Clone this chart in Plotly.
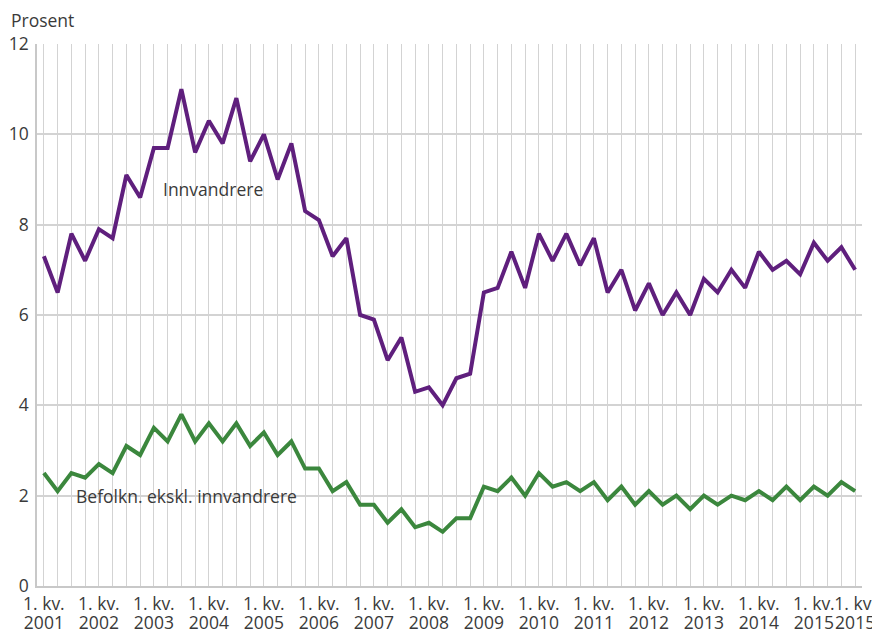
import plotly.graph_objects as go

years = list(range(2001, 2016))
quarters = [f"{y}K{q}" for y in years for q in range(1, 5)]

innvandrere = [7.3, 6.5, 7.8, 7.2, 7.9, 7.7, 9.1, 8.6, 9.7, 9.7,
               11.0, 9.6, 10.3, 9.8, 10.8, 9.4, 10.0, 9.0, 9.8, 8.3,
               8.1, 7.3, 7.7, 6.0, 5.9, 5.0, 5.5, 4.3, 4.4, 4.0,
               4.6, 4.7, 6.5, 6.6, 7.4, 6.6, 7.8, 7.2, 7.8, 7.1,
               7.7, 6.5, 7.0, 6.1, 6.7, 6.0, 6.5, 6.0, 6.8, 6.5,
               7.0, 6.6, 7.4, 7.0, 7.2, 6.9, 7.6, 7.2, 7.5, 7.0]

befolkn = [2.5, 2.1, 2.5, 2.4, 2.7, 2.5, 3.1, 2.9, 3.5, 3.2,
           3.8, 3.2, 3.6, 3.2, 3.6, 3.1, 3.4, 2.9, 3.2, 2.6,
           2.6, 2.1, 2.3, 1.8, 1.8, 1.4, 1.7, 1.3, 1.4, 1.2,
           1.5, 1.5, 2.2, 2.1, 2.4, 2.0, 2.5, 2.2, 2.3, 2.1,
           2.3, 1.9, 2.2, 1.8, 2.1, 1.8, 2.0, 1.7, 2.0, 1.8,
           2.0, 1.9, 2.1, 1.9, 2.2, 1.9, 2.2, 2.0, 2.3, 2.1]

# labelled categories and their texts (as in the original, last label repeats 2015)
tick_categories = [f"{y}K1" for y in years] + ["2015K4"]
tick_quarter_text = ["1. kv."] * len(tick_categories)
tick_year_text = [str(y) for y in years] + ["2015"]

series_names = ["Innvandrere", "Befolkn. ekskl. innvandrere"]
colors = ["#5f1f7d", "#3b873d"]

x_idx = list(range(len(quarters)))
tickvals = [quarters.index(c) for c in tick_categories]
xrange = [-0.5, len(quarters) - 0.5]

FONT = "Open Sans"
FS = 17.5
TXT = "#3a3a3a"
GRID = "#d3d3d3"
tfont = dict(family=FONT, size=FS, color=TXT)

fig = go.Figure()
for name, vals, col in zip(series_names, [innvandrere, befolkn], colors):
    fig.add_trace(go.Scatter(
        x=x_idx, y=vals, mode="lines", name=name,
        line=dict(color=col, width=4), customdata=quarters,
        hovertemplate="%{customdata}: %{y}<extra>" + name + "</extra>",
    ))
# invisible carrier so the second (year-label) x axis is drawn
fig.add_trace(go.Scatter(
    x=x_idx, y=befolkn, xaxis="x2", mode="lines",
    line=dict(width=0, color="rgba(0,0,0,0)"), hoverinfo="skip", showlegend=False,
))

# page body has an 8px margin, so the figure is sized to fill the window from there
fig.update_layout(
    width=872, height=624,
    margin=dict(l=29, r=18, t=36, b=46),
    paper_bgcolor="white", plot_bgcolor="white",
    showlegend=False,
    font=tfont,
    annotations=[
        dict(text="Prosent", xref="paper", yref="paper", x=-0.034, y=1.044,
             xanchor="left", yanchor="middle", showarrow=False, font=tfont),
        dict(text="Innvandrere", xref="x", yref="y", x=8.5, y=8.8,
             xanchor="left", yanchor="middle", showarrow=False, font=tfont),
        dict(text="Befolkn. ekskl. innvandrere", xref="x", yref="y", x=2.2, y=2.0,
             xanchor="left", yanchor="middle", showarrow=False, font=tfont),
    ],
    xaxis=dict(
        range=xrange, automargin=False, tickangle=0,
        tickmode="array", tickvals=tickvals, ticktext=tick_quarter_text,
        showgrid=True, gridcolor=GRID, gridwidth=1,
        minor=dict(dtick=1, tick0=0, showgrid=True, gridcolor=GRID, gridwidth=1),
        showline=True, linecolor="#c8c8c8", linewidth=1.5,
        ticks="", ticklabelstandoff=1, tickfont=tfont,
        zeroline=False, fixedrange=True,
    ),
    xaxis2=dict(
        overlaying="x", anchor="y", side="bottom",
        range=xrange, automargin=False, tickangle=0,
        tickmode="array", tickvals=tickvals, ticktext=tick_year_text,
        showgrid=False, showline=False, ticks="", ticklabelstandoff=24,
        tickfont=tfont, zeroline=False, fixedrange=True,
    ),
    yaxis=dict(
        range=[0, 12], tickmode="linear", tick0=0, dtick=2, automargin=False,
        showgrid=True, gridcolor=GRID, gridwidth=1.5,
        showline=True, linecolor="#c8c8c8", linewidth=1.5,
        ticks="outside", ticklen=3, tickcolor="rgba(0,0,0,0)",
        tickfont=tfont, zeroline=False, fixedrange=True,
    ),
)

fig.write_html("out.html")
